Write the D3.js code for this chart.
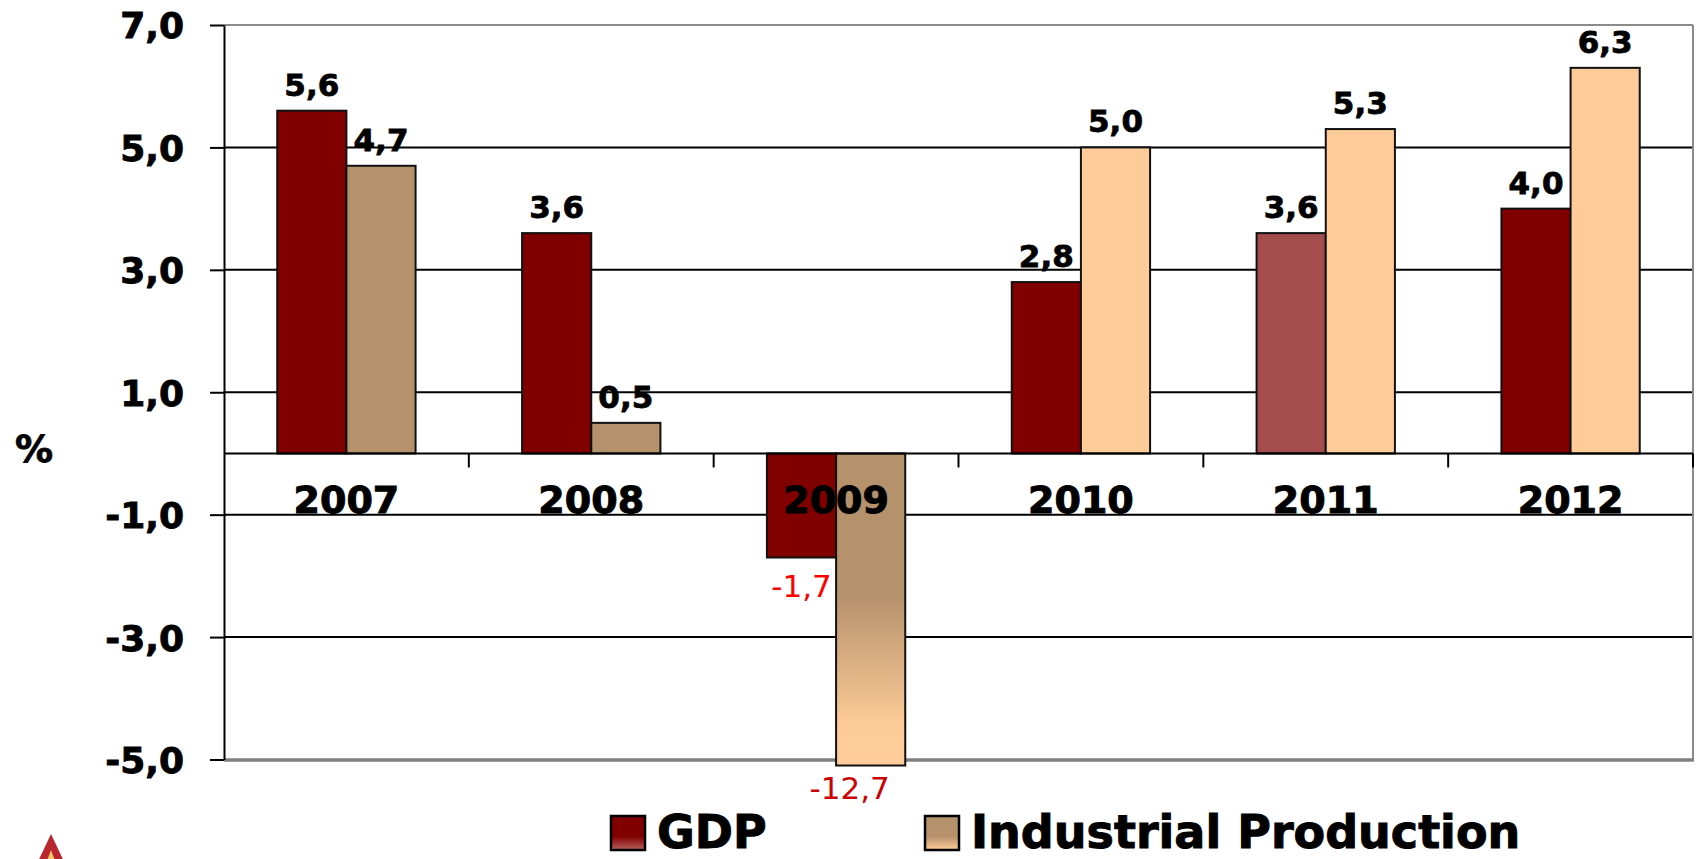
<!DOCTYPE html>
<html>
<head>
<meta charset="utf-8">
<script src="https://cdn.jsdelivr.net/npm/d3@7"></script>
<style>
  html, body { margin: 0; padding: 0; background: #fff; }
  svg { display: block; font-family: "DejaVu Sans", Verdana, sans-serif; }
</style>
</head>
<body>
<svg id="chart" width="1696" height="859"></svg>
<script>
// ---- data ----
const years = ["2007", "2008", "2009", "2010", "2011", "2012"];
const gdp = [5.6, 3.6, -1.7, 2.8, 3.6, 4.0];
const industrialProduction = [4.7, 0.5, -12.7, 5.0, 5.3, 6.3];
const seriesNames = ["GDP", "Industrial Production"];
const yTicks = [-5, -3, -1, 1, 3, 5, 7];

// ---- styles (kept apart from data) ----
const gdpFills = ["#800000", "#800000", "#800000", "#800000", "#A54D4D", "#800000"];
const ipFills = ["#B5916C", "#B5916C", "url(#ipGrad)", "#FFCC99", "#FFCC99", "#FFCC99"];

const svg = d3.select("#chart");
const plot = { left: 224, right: 1693, top: 25, bottom: 759.5 };

const defs = svg.append("defs");
const g1 = defs.append("linearGradient").attr("id", "ipGrad").attr("x1", 0).attr("y1", 0).attr("x2", 0).attr("y2", 1);
g1.append("stop").attr("offset", "0.45").attr("stop-color", "#B5916C");
g1.append("stop").attr("offset", "0.87").attr("stop-color", "#FDCB97");
g1.append("stop").attr("offset", "1").attr("stop-color", "#FFCC99");
const g2 = defs.append("linearGradient").attr("id", "legGdp").attr("x1", 0).attr("y1", 0).attr("x2", 0).attr("y2", 1);
g2.append("stop").attr("offset", "0.6").attr("stop-color", "#800000");
g2.append("stop").attr("offset", "1").attr("stop-color", "#B86060");
const g3 = defs.append("linearGradient").attr("id", "legIp").attr("x1", 0).attr("y1", 0).attr("x2", 0).attr("y2", 1);
g3.append("stop").attr("offset", "0.6").attr("stop-color", "#B5916C");
g3.append("stop").attr("offset", "1").attr("stop-color", "#FFCC99");

const y = d3.scaleLinear().domain([-5, 7]).range([plot.bottom, plot.top]);
const x = d3.scaleBand().domain(years).range([plot.left, plot.right]).paddingInner(0).paddingOuter(0);
const xs = d3.scaleBand().domain(["gdp", "ip"]).range([0, x.bandwidth()]).paddingInner(0).paddingOuter(0.77);
const fmt = v => d3.format(".1f")(v).replace(".", ",").replace("\u2212", "-");
const floorY = plot.bottom + 6; // bars that run past the frame are cut here

function barY(v) { return v >= 0 ? y(v) : y(0); }
function barH(v) { return v >= 0 ? y(0) - y(v) : Math.min(y(v), floorY) - y(0); }

// gridlines
svg.append("g").selectAll("line").data(yTicks.filter(t => t > -5 && t < 7)).join("line")
  .attr("x1", plot.left).attr("x2", plot.right)
  .attr("y1", d => y(d)).attr("y2", d => y(d))
  .attr("stroke", "#000").attr("stroke-width", 2);
// frame (top, right, bottom) in grey
svg.append("line").attr("x1", plot.left).attr("x2", plot.right).attr("y1", y(7)).attr("y2", y(7))
  .attr("stroke", "#8a8a8a").attr("stroke-width", 2);
svg.append("line").attr("x1", plot.right).attr("x2", plot.right).attr("y1", y(7)).attr("y2", y(-5))
  .attr("stroke", "#8a8a8a").attr("stroke-width", 2);
svg.append("line").attr("x1", plot.left).attr("x2", plot.right + 1).attr("y1", y(-5) + 0.5).attr("y2", y(-5) + 0.5)
  .attr("stroke", "#808080").attr("stroke-width", 3.5);

// bars
const rows = years.map((yr, i) => ({ yr, i, gdp: gdp[i], ip: industrialProduction[i] }));
const bars = svg.append("g");
bars.selectAll("rect.gdp").data(rows).join("rect").attr("class", "gdp")
  .attr("x", d => x(d.yr) + xs("gdp")).attr("width", xs.bandwidth())
  .attr("y", d => barY(d.gdp)).attr("height", d => barH(d.gdp))
  .attr("fill", d => gdpFills[d.i]).attr("stroke", "#111").attr("stroke-width", 2);
bars.selectAll("rect.ip").data(rows).join("rect").attr("class", "ip")
  .attr("x", d => x(d.yr) + xs("ip")).attr("width", xs.bandwidth())
  .attr("y", d => barY(d.ip)).attr("height", d => barH(d.ip))
  .attr("fill", d => ipFills[d.i]).attr("stroke", "#111").attr("stroke-width", 2);

// zero line + category ticks
svg.append("line").attr("x1", plot.left).attr("x2", plot.right).attr("y1", y(0)).attr("y2", y(0))
  .attr("stroke", "#000").attr("stroke-width", 2);
svg.append("g").selectAll("line").data(years).join("line")
  .attr("x1", d => x(d) + x.bandwidth()).attr("x2", d => x(d) + x.bandwidth())
  .attr("y1", y(0)).attr("y2", y(0) + 14)
  .attr("stroke", "#000").attr("stroke-width", 2);

// y axis
const yAxis = d3.axisLeft(y).tickValues(yTicks).tickFormat(fmt).tickSize(14).tickSizeOuter(0).tickPadding(26);
const ya = svg.append("g").attr("transform", `translate(${plot.left},0)`).call(yAxis);
ya.select(".domain").attr("stroke", "#000").attr("stroke-width", 2);
ya.selectAll(".tick line").attr("stroke", "#000").attr("stroke-width", 2);
ya.selectAll(".tick text").attr("font-size", 36).attr("font-weight", "bold").attr("fill", "#000")
  .attr("stroke", "#000").attr("stroke-width", 0.9)
  .attr("font-family", "DejaVu Sans, sans-serif").attr("dy", "0.36em");

// value labels
const labelG = svg.append("g").attr("font-size", 31).attr("text-anchor", "middle");
function labelY(v) {
  if (v >= 0) return y(v) - 15;
  return Math.min(y(v), plot.bottom) + 39;
}
function styleLabel(sel, key, negColor) {
  sel.attr("y", d => labelY(d[key]))
    .attr("font-weight", d => d[key] >= 0 ? "bold" : "normal")
    .attr("fill", d => d[key] >= 0 ? "#000" : negColor)
    .attr("stroke", d => d[key] >= 0 ? "#000" : "none")
    .attr("stroke-width", 0.8)
    .text(d => fmt(d[key]));
}
labelG.selectAll("text.lg").data(rows).join("text").attr("class", "lg")
  .attr("x", d => x(d.yr) + xs("gdp") + xs.bandwidth() / 2)
  .call(styleLabel, "gdp", "#FF0000");
labelG.selectAll("text.li").data(rows).join("text").attr("class", "li")
  .attr("x", d => x(d.yr) + xs("ip") + xs.bandwidth() / 2 + (y(d.ip) > plot.bottom ? -21 : 0))
  .call(styleLabel, "ip", "#CC0000");

// category labels
svg.append("g").selectAll("text").data(years).join("text")
  .attr("x", d => x(d) + x.bandwidth() / 2).attr("y", y(0) + 60)
  .attr("text-anchor", "middle").attr("font-size", 38).attr("font-weight", "bold").attr("fill", "#000")
  .attr("stroke", "#000").attr("stroke-width", 1)
  .text(d => d);

// % label
svg.append("text").attr("x", 15).attr("y", 462).attr("font-size", 38).attr("font-weight", "bold")
  .attr("stroke", "#000").attr("stroke-width", 0.8).text("%");

// legend
const legendItems = [
  { name: seriesNames[0], fill: "url(#legGdp)", sx: 611, tx: 657 },
  { name: seriesNames[1], fill: "url(#legIp)", sx: 925, tx: 971 }
];
const lg = svg.append("g");
lg.selectAll("rect").data(legendItems).join("rect")
  .attr("x", d => d.sx).attr("y", 816).attr("width", 34).attr("height", 34)
  .attr("fill", d => d.fill).attr("stroke", "#000").attr("stroke-width", 2.5);
lg.selectAll("text").data(legendItems).join("text")
  .attr("x", d => d.tx).attr("y", 848).attr("font-size", 46).attr("font-weight", "bold").attr("fill", "#000")
  .attr("stroke", "#000").attr("stroke-width", 1)
  .text(d => d.name);

// small logo fragment (bottom-left)
svg.append("path").attr("d", "M51,834 L33,872 L69,872 Z").attr("fill", "#B8262E");
svg.append("path").attr("d", "M51,850 L45,866 L57,866 Z").attr("fill", "#F3C46A");
</script>
</body>
</html>
